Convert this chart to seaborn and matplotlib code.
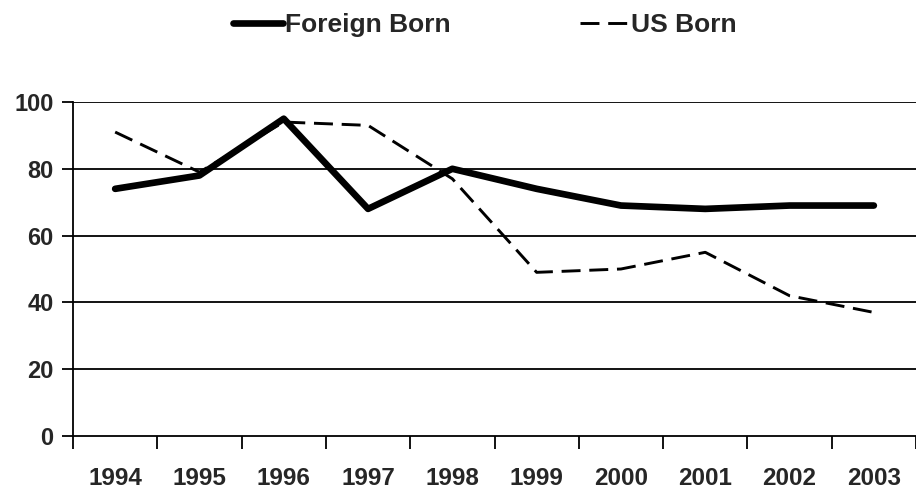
import pandas as pd
import matplotlib.pyplot as plt
import seaborn as sns
import numpy as np

# === DATA ===
years = ["1994", "1995", "1996", "1997", "1998", "1999", "2000", "2001", "2002", "2003"]
foreign_born = [74, 78, 95, 68, 80, 74, 69, 68, 69, 69]
us_born = [91, 79, 94, 93, 77, 49, 50, 55, 42, 37]
y_ticks = [0, 20, 40, 60, 80, 100]

# === STYLE ===
sns.set_style("white")
plt.rcParams["font.family"] = ["Liberation Sans", "DejaVu Sans"]
plt.rcParams["font.weight"] = "bold"

df = pd.DataFrame({"year": years, "Foreign Born": foreign_born, "US Born": us_born})

fig = plt.figure(figsize=(9.16, 4.91), dpi=100)
ax = fig.add_axes([73 / 916, 1 - 436 / 491, 843 / 916, 334 / 491])

# gridlines first so lines sit on top
for yv in y_ticks[1:]:
    ax.axhline(yv, color="black", lw=1.3, zorder=1)

sns.lineplot(data=df, x="year", y="Foreign Born", ax=ax, color="black",
             lw=4.8, label="Foreign Born", zorder=3, solid_capstyle="round")
sns.lineplot(data=df, x="year", y="US Born", ax=ax, color="black",
             lw=2.1, label="US Born", zorder=2, linestyle=(0, (6.5, 3)))

ax.set_ylim(0, 100)
ax.set_xlim(-0.5, -0.5 + 843 / 85.3)
ax.set_yticks(y_ticks)
ax.set_yticklabels([str(v) for v in y_ticks], fontsize=17, fontweight="bold")

# category ticks sit between years
ax.set_xticks(range(len(years)))
ax.set_xticklabels(years, fontsize=17.5, fontweight="bold")
ax.tick_params(axis="x", which="major", bottom=True, length=0, pad=22)
ax.set_xticks(np.arange(-0.5, len(years), 1.0), minor=True)
ax.tick_params(axis="x", which="minor", bottom=True, length=9, width=1.3,
               direction="out", color="black")
ax.tick_params(axis="y", left=True, length=8, width=1.3, direction="out",
               color="black", pad=6)

ax.set_xlabel("")
ax.set_ylabel("")
for side in ["top", "right"]:
    ax.spines[side].set_visible(False)
for side in ["left", "bottom"]:
    ax.spines[side].set_color("black")
    ax.spines[side].set_linewidth(1.3)

leg = ax.legend(loc="center", bbox_to_anchor=(485 / 916, 1 - 25 / 491),
                bbox_transform=fig.transFigure, ncol=2, frameon=False,
                handlelength=1.9, handletextpad=0.05, columnspacing=4.9,
                prop={"size": 19, "weight": "bold"})

fig.savefig("out.png", dpi=100)
